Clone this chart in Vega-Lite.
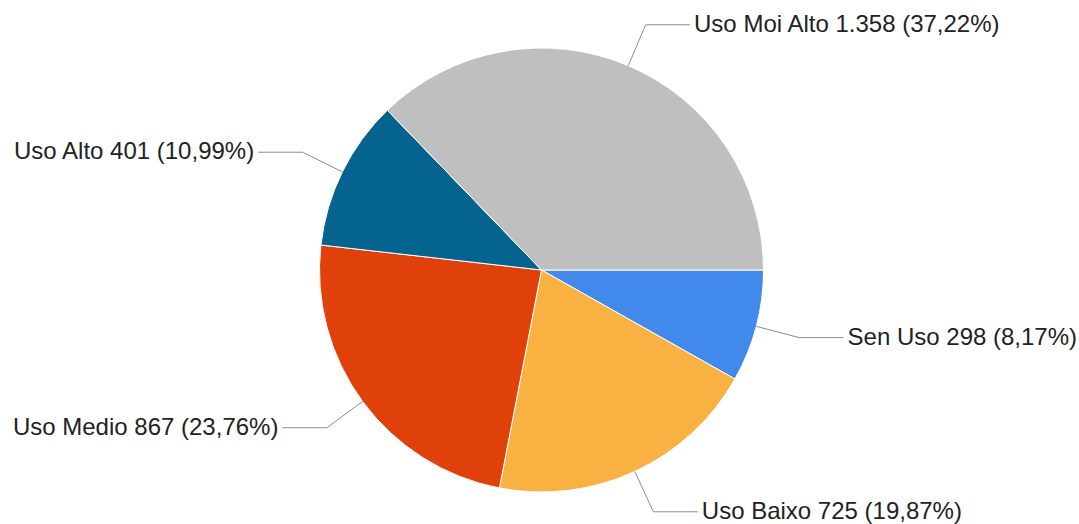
{
  "$schema": "https://vega.github.io/schema/vega-lite/v6.json",
  "autosize": {"type": "fit", "contains": "padding"},
  "width": 1079,
  "height": 524,
  "padding": 0,
  "background": "#ffffff",
  "config": {
    "view": {"stroke": null},
    "locale": {"number": {"decimal": ",", "thousands": ".", "grouping": [3], "currency": ["", " €"]}}
  },
  "data": {
    "values": [
      {"k": 1, "cat": "Sen Uso", "value": 298},
      {"k": 2, "cat": "Uso Baixo", "value": 725},
      {"k": 3, "cat": "Uso Medio", "value": 867},
      {"k": 4, "cat": "Uso Alto", "value": 401},
      {"k": 5, "cat": "Uso Moi Alto", "value": 1358}
    ]
  },
  "transform": [
    {"joinaggregate": [{"op": "sum", "field": "value", "as": "total"}]},
    {"window": [{"op": "sum", "field": "value", "as": "cum"}], "sort": [{"field": "k"}], "frame": [null, 0]},
    {"calculate": "2*PI*(datum.cum - datum.value/2)/datum.total", "as": "a"},
    {"calculate": "cos(datum.a)", "as": "cx"},
    {"calculate": "sin(datum.a)", "as": "cy"},
    {"calculate": "1.2*datum.cx", "as": "ex"},
    {"calculate": "1.2*datum.cy", "as": "ey"},
    {"calculate": "datum.ex + (datum.cx >= 0 ? 0.2 : -0.2)", "as": "lx"},
    {"calculate": "datum.cat + ' ' + format(datum.value, ',') + ' (' + format(datum.value/datum.total, '.2%') + ')'", "as": "label"}
  ],
  "layer": [
    {
      "mark": {"type": "arc", "radius": 222, "stroke": "#ffffff", "strokeWidth": 1},
      "encoding": {
        "theta": {"field": "value", "type": "quantitative", "stack": true, "scale": {"range": [1.5707963, 7.8539816]}},
        "order": {"field": "k", "type": "quantitative"},
        "color": {
          "field": "cat", "type": "nominal", "legend": null,
          "scale": {
            "domain": ["Sen Uso", "Uso Baixo", "Uso Medio", "Uso Alto", "Uso Moi Alto"],
            "range": ["#4189ea", "#f9b241", "#e0400a", "#05638f", "#bfbfbf"]
          }
        },
        "x": {"datum": 0, "type": "quantitative", "axis": null, "scale": {"domain": [-2.4392, 2.4212], "nice": false, "zero": false}},
        "y": {"datum": 0, "type": "quantitative", "axis": null, "scale": {"domain": [-1.2162, 1.1441], "reverse": true, "nice": false, "zero": false}}
      }
    },
    {
      "mark": {"type": "rule", "color": "#8c8c8c", "strokeWidth": 1},
      "encoding": {
        "x": {"field": "cx", "type": "quantitative", "axis": null, "scale": {"domain": [-2.4392, 2.4212], "nice": false, "zero": false}},
        "y": {"field": "cy", "type": "quantitative", "axis": null, "scale": {"domain": [-1.2162, 1.1441], "reverse": true, "nice": false, "zero": false}},
        "x2": {"field": "ex"},
        "y2": {"field": "ey"}
      }
    },
    {
      "mark": {"type": "rule", "color": "#8c8c8c", "strokeWidth": 1},
      "encoding": {
        "x": {"field": "ex", "type": "quantitative", "axis": null, "scale": {"domain": [-2.4392, 2.4212], "nice": false, "zero": false}},
        "y": {"field": "ey", "type": "quantitative", "axis": null, "scale": {"domain": [-1.2162, 1.1441], "reverse": true, "nice": false, "zero": false}},
        "x2": {"field": "lx"}
      }
    },
    {
      "transform": [{"filter": "datum.cx >= 0"}],
      "mark": {"type": "text", "align": "left", "baseline": "middle", "dx": 4, "fontSize": 24, "font": "Liberation Sans", "color": "#222222"},
      "encoding": {
        "x": {"field": "lx", "type": "quantitative", "axis": null, "scale": {"domain": [-2.4392, 2.4212], "nice": false, "zero": false}},
        "y": {"field": "ey", "type": "quantitative", "axis": null, "scale": {"domain": [-1.2162, 1.1441], "reverse": true, "nice": false, "zero": false}},
        "text": {"field": "label", "type": "nominal"}
      }
    },
    {
      "transform": [{"filter": "datum.cx < 0"}],
      "mark": {"type": "text", "align": "right", "baseline": "middle", "dx": -4, "fontSize": 24, "font": "Liberation Sans", "color": "#222222"},
      "encoding": {
        "x": {"field": "lx", "type": "quantitative", "axis": null, "scale": {"domain": [-2.4392, 2.4212], "nice": false, "zero": false}},
        "y": {"field": "ey", "type": "quantitative", "axis": null, "scale": {"domain": [-1.2162, 1.1441], "reverse": true, "nice": false, "zero": false}},
        "text": {"field": "label", "type": "nominal"}
      }
    }
  ]
}
